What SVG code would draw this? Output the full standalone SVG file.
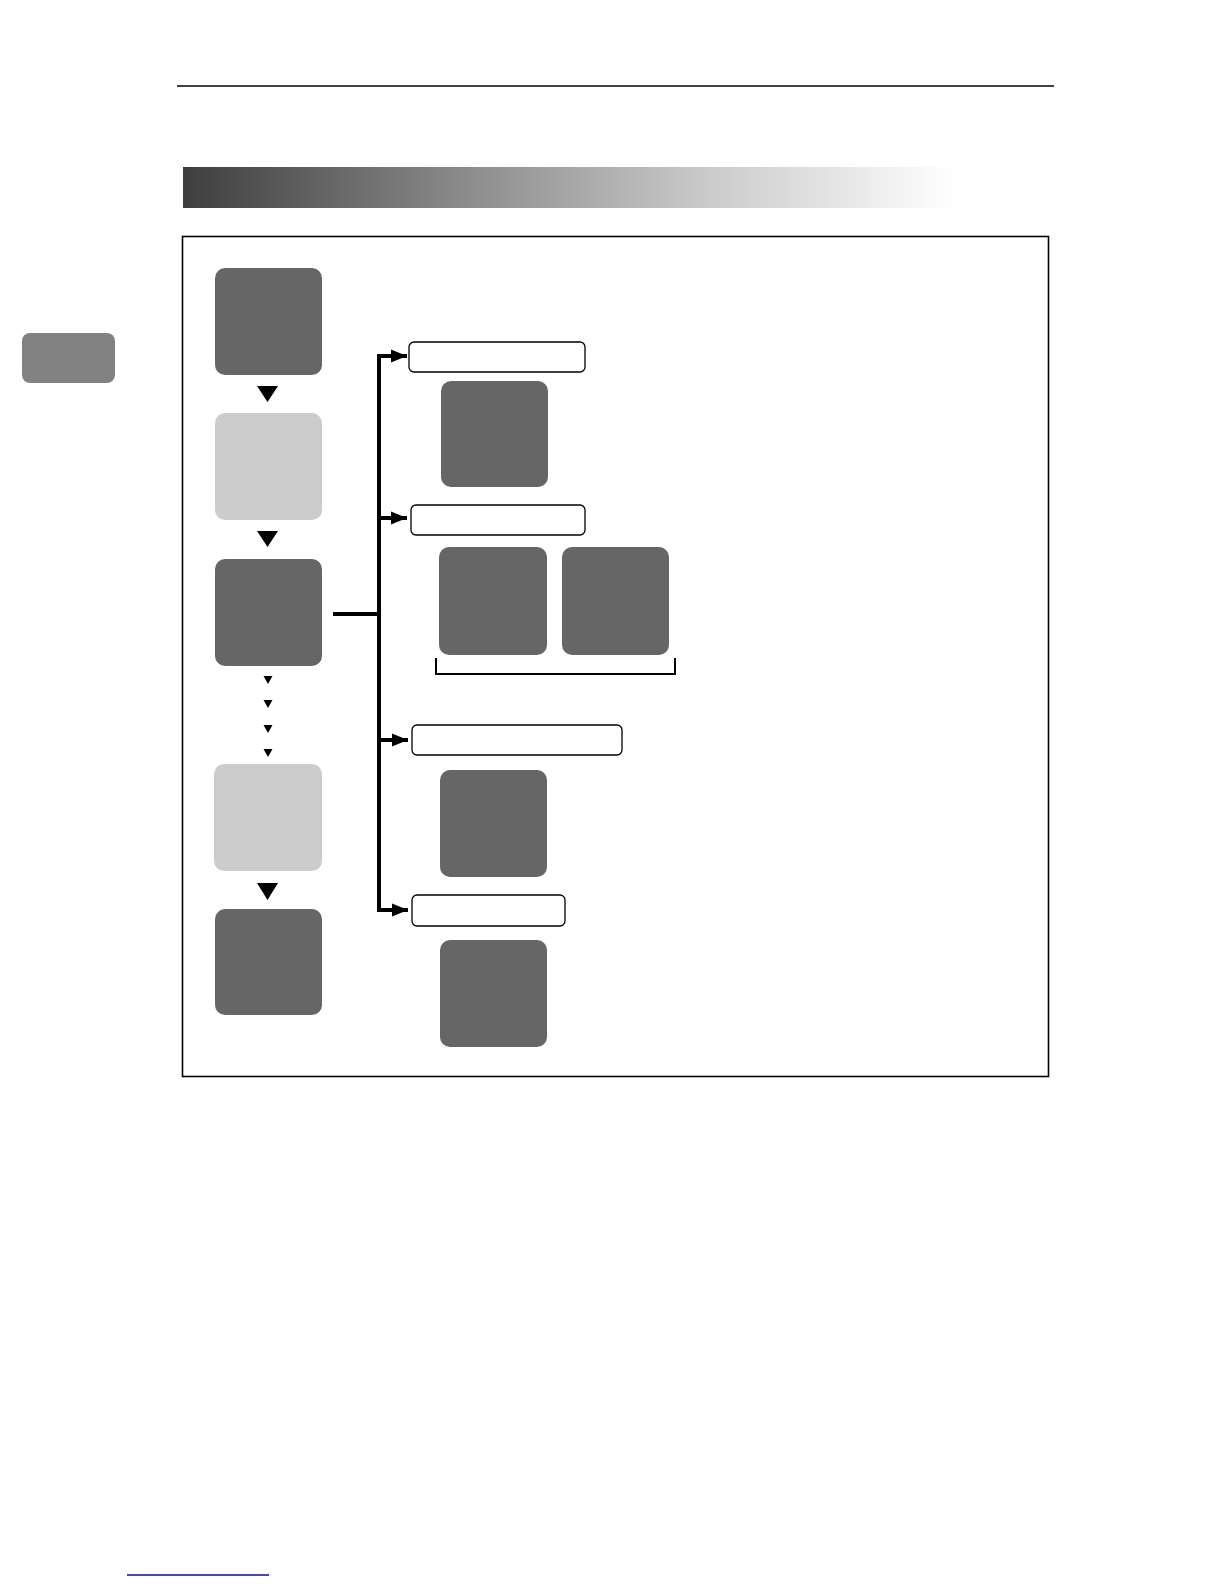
<svg xmlns="http://www.w3.org/2000/svg" width="1224" height="1584" viewBox="0 0 1224 1584">
<style>
.dark{fill:#666666}
.light{fill:#cccccc}
.label{fill:#ffffff;stroke:#000000;stroke-width:1.3}
.conn{fill:none;stroke:#000000;stroke-width:4}
.tri{fill:#000000}
</style>
<defs>
<linearGradient id="bar" x1="0" y1="0" x2="1" y2="0">
<stop offset="0" stop-color="#3e3e3e"/>
<stop offset="0.35" stop-color="#909090"/>
<stop offset="0.6" stop-color="#c8c8c8"/>
<stop offset="0.9" stop-color="#ffffff"/>
<stop offset="1" stop-color="#ffffff"/>
</linearGradient>
<marker id="arr" markerUnits="userSpaceOnUse" markerWidth="18" markerHeight="14" refX="16" refY="7" orient="auto">
<path d="M0,0.5 L16,7 L0,13.5 Z" fill="#000000"/>
</marker>
</defs>
<rect width="1224" height="1584" fill="#ffffff"/>
<line x1="177" y1="86" x2="1054" y2="86" stroke="#000000" stroke-width="1.5"/>
<rect x="183" y="167" width="860" height="41" fill="url(#bar)"/>
<rect x="22" y="333" width="93" height="50" rx="8" fill="#828282"/>
<rect x="182.5" y="236.5" width="866" height="840" fill="none" stroke="#000000" stroke-width="1.6"/>

<g id="connectors">
<path class="conn" d="M333,614 H379"/>
<path class="conn" d="M379,356 V912"/>
<path class="conn" d="M377,356 H407" marker-end="url(#arr)"/>
<path class="conn" d="M377,518 H407" marker-end="url(#arr)"/>
<path class="conn" d="M377,740 H408" marker-end="url(#arr)"/>
<path class="conn" d="M377,910 H408" marker-end="url(#arr)"/>
<path class="tri" d="M257,386 H278 L267.5,402 Z"/>
<path class="tri" d="M257,531 H278 L267.5,547 Z"/>
<path class="tri" d="M257,883 H278 L267.5,900 Z"/>
<path class="tri" d="M263.5,676 H272.5 L268,684 Z"/>
<path class="tri" d="M263.5,700 H272.5 L268,708 Z"/>
<path class="tri" d="M263.5,725 H272.5 L268,733 Z"/>
<path class="tri" d="M263.5,749 H272.5 L268,757 Z"/>
<path d="M436,658 V674 H675 V658" fill="none" stroke="#000000" stroke-width="2"/>
</g>

<g id="step1"><rect class="dark" x="215" y="268" width="107" height="107" rx="10"/></g>
<g id="step2"><rect class="light" x="215" y="413" width="107" height="107" rx="10"/></g>
<g id="step3"><rect class="dark" x="215" y="559" width="107" height="107" rx="10"/></g>
<g id="step4"><rect class="light" x="214" y="764" width="108" height="107" rx="10"/></g>
<g id="step5"><rect class="dark" x="215" y="909" width="107" height="106" rx="10"/></g>

<g id="label1"><rect class="label" x="409" y="342" width="176" height="30" rx="5"/></g>
<g id="branch1"><rect class="dark" x="441" y="381" width="107" height="106" rx="10"/></g>
<g id="label2"><rect class="label" x="411" y="505" width="174" height="30" rx="5"/></g>
<g id="branch2a"><rect class="dark" x="439" y="547" width="108" height="108" rx="10"/></g>
<g id="branch2b"><rect class="dark" x="562" y="547" width="107" height="108" rx="10"/></g>
<g id="label3"><rect class="label" x="412" y="725" width="210" height="30" rx="5"/></g>
<g id="branch3"><rect class="dark" x="440" y="770" width="107" height="107" rx="10"/></g>
<g id="label4"><rect class="label" x="412" y="895" width="153" height="31" rx="5"/></g>
<g id="branch4"><rect class="dark" x="440" y="940" width="107" height="107" rx="10"/></g>

<line x1="127" y1="1575" x2="269" y2="1575" stroke="#0a0a90" stroke-width="1.6"/>
</svg>
